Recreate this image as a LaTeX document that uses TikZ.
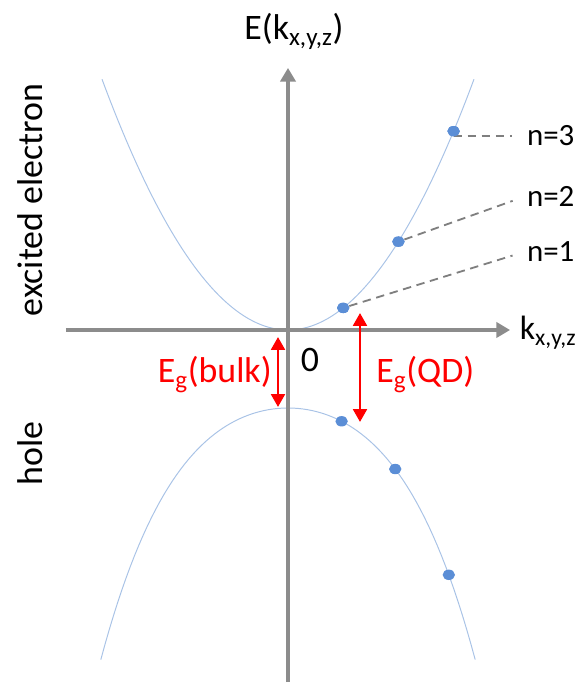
\documentclass[tikz,border=0pt]{standalone}
\usepackage{fontspec}
\setmainfont{Carlito}
\definecolor{axisgray}{HTML}{8C8C8C}
\definecolor{bandblue}{HTML}{A9C3E6}
\definecolor{dotblue}{HTML}{5B8ED6}
\definecolor{leadgray}{HTML}{7F7F7F}
\usetikzlibrary{arrows.meta,positioning,shapes.geometric}
\tikzset{axis/.style={draw=axisgray,line width=2.2pt,-{Triangle[length=3.4mm,width=3.8mm]}},band/.style={draw=bandblue,line width=0.7pt},lvl/.style={ellipse,fill=dotblue,inner sep=0,minimum width=3.1mm,minimum height=2.6mm}}
\begin{document}
\begin{tikzpicture}[font=\fontsize{25.5}{30}\selectfont,inner sep=2pt,lead/.style={draw=leadgray,line width=1.3pt,dash pattern=on 6pt off 4pt},egap/.style={draw=red,line width=2pt,{Triangle[length=3.2mm,width=3.4mm]}-{Triangle[length=3.2mm,width=3.4mm]}},nlbl/.style={anchor=west,font=\fontsize{22}{26}\selectfont}]
\useasboundingbox (-7.2,-8.9) rectangle (7.25,8.25);
% bands
\draw[band] plot[domain=-4.65:4.65,samples=90] (\x,{0.29*\x*\x});
\draw[band] plot[domain=-4.68:4.68,samples=90] (\x,{-1.95-0.176*\x*\x-0.00508*\x*\x*\x*\x});
% axes
\coordinate (kmin) at (-5.55,0); \coordinate (kmax) at (5.55,0);
\coordinate (emin) at (0,-8.8); \coordinate (emax) at (0,6.55);
\draw[axis] (kmin)--(kmax); \draw[axis] (emin)--(emax);
\node[anchor=base west,font=\fontsize{24}{28}\selectfont] (kx) at (5.72,-0.25) {k\textsubscript{x,y,z}};
\node[anchor=base] (ek) at (0.15,7.25) {E(k\textsubscript{x,y,z})};
\node[anchor=base] (zero) at (0.55,-1.05) {0};
\node[rotate=90] (el) at (-6.45,3.25) {excited electron};
\node[rotate=90] (ho) at (-6.45,-3.08) {hole};
% levels
\node[lvl] (d1) at (1.38,{0.29*1.38*1.38}) {};
\node[lvl] (d2) at (2.76,{0.29*2.76*2.76}) {};
\node[lvl] (d3) at (4.14,{0.29*4.14*4.14}) {};
\node[nlbl] (n1) at (5.9,1.95) {n=1};
\node[nlbl] (n2) at (5.9,3.33) {n=2};
\node[nlbl] (n3) at (5.9,4.85) {n=3};
\draw[lead,shorten >=0.3cm] (d1)--(n1.west);\draw[lead,shorten >=0.3cm] (d2)--(n2.west);\draw[lead,shorten >=0.3cm] (d3.center|-n3.west)--(n3.west);
\node[lvl] at (d1) {};\node[lvl] at (d2) {};\node[lvl] at (d3) {};
\foreach \i/\k in {1/1.34,2/2.68,3/4.02}
  \node[lvl] (h\i) at (\k,{-1.95-0.176*\k*\k-0.00508*\k*\k*\k*\k}) {};
% gaps
\coordinate (bt) at (-0.25,-0.175); \coordinate (bb) at (-0.25,-1.925);
\coordinate (qt) at (1.8,0.425); \coordinate (qb) at (1.8,-2.3);
\draw[egap] (bt)--(bb); \draw[egap] (qt)--(qb);
\node[anchor=base east,text=red] (gb) at (-0.33,-1.325) {E\textsubscript{g}(bulk)};
\node[anchor=base west,text=red] (gq) at (2.13,-1.325) {E\textsubscript{g}(QD)};
\end{tikzpicture}
\end{document}
